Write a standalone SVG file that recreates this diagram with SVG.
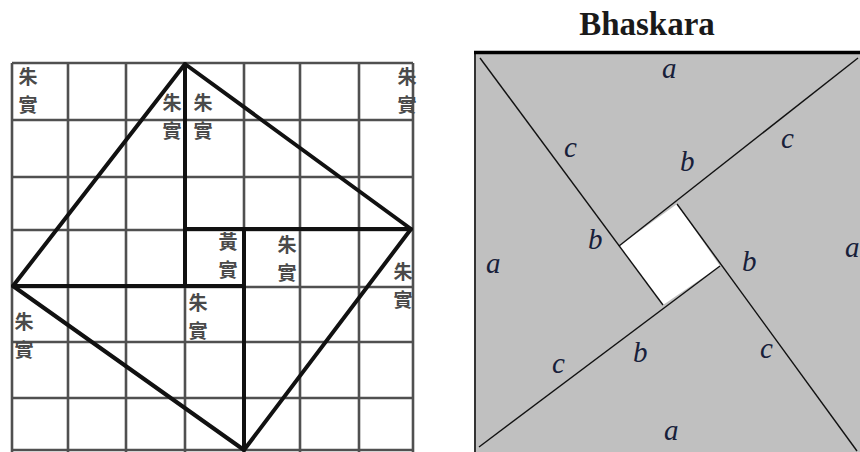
<svg xmlns="http://www.w3.org/2000/svg" width="860" height="452" viewBox="0 0 860 452">
<style>
.grid{stroke:#505050;stroke-width:2.6;fill:none}
.thick{stroke:#111;stroke-width:4;fill:none;stroke-linecap:round;stroke-linejoin:round}
.cjk{font-family:"Noto Sans CJK TC","Noto Sans CJK SC",sans-serif;font-size:19px;font-weight:700;fill:#4a4a4a;text-anchor:middle}
.seg{stroke:#111;stroke-width:1.4;fill:none}
.lbl{font-family:"Liberation Serif",serif;font-style:italic;font-size:29px;fill:#18203a}
.title{font-family:"Liberation Serif",serif;font-weight:bold;font-size:33px;fill:#1a1a1a;text-anchor:middle}
</style>
<rect width="860" height="452" fill="#ffffff"/>
<g id="chinese-figure">
<g id="grid">
<path class="grid" d="M12 63V452M68 63V452M126 63V452M185 63V452M244 63V452M300 63V452M359 63V452M413 63V452"/>
<path class="grid" d="M12 63H413M12 120H413M12 177H413M12 230H413M12 287H413M12 342H413M12 398H413M12 450H413"/>
</g>
<g id="hypotenuse-square">
<path class="thick" d="M185 64L411 229L244 450L13 286Z"/>
<path class="thick" d="M185 64V286M411 229H185M244 450V229M13 286H244"/>
</g>
<g id="label-1"><text class="cjk" x="28" y="84">朱</text><text class="cjk" x="28" y="112">實</text></g>
<g id="label-2"><text class="cjk" x="172" y="110">朱</text><text class="cjk" x="172" y="138">實</text></g>
<g id="label-3"><text class="cjk" x="203" y="110">朱</text><text class="cjk" x="203" y="138">實</text></g>
<g id="label-4"><text class="cjk" x="407" y="84">朱</text><text class="cjk" x="407" y="112">實</text></g>
<g id="label-5"><text class="cjk" x="228" y="249">黃</text><text class="cjk" x="228" y="277">實</text></g>
<g id="label-6"><text class="cjk" x="287" y="252">朱</text><text class="cjk" x="287" y="280">實</text></g>
<g id="label-7"><text class="cjk" x="403" y="279">朱</text><text class="cjk" x="403" y="307">實</text></g>
<g id="label-8"><text class="cjk" x="24" y="329">朱</text><text class="cjk" x="24" y="357">實</text></g>
<g id="label-9"><text class="cjk" x="198" y="310">朱</text><text class="cjk" x="198" y="338">實</text></g>
</g>
<g id="bhaskara-figure">
<text class="title" x="647" y="35">Bhaskara</text>
<g id="outer-square">
<rect x="475" y="52" width="390" height="410" fill="#c0c0c0"/>
<line x1="475" y1="51" x2="475" y2="452" stroke="#333" stroke-width="2"/>
<line x1="474" y1="52.5" x2="860" y2="52.5" stroke="#000" stroke-width="3.5"/>
</g>
<g id="inner-square">
<path d="M677 204L720 266L663 305L619 246Z" fill="#ffffff"/>
</g>
<g id="connectors">
<line class="seg" x1="480" y1="58" x2="663" y2="305"/>
<line class="seg" x1="858" y1="58" x2="619" y2="246"/>
<line class="seg" x1="479" y1="447" x2="720" y2="266"/>
<line class="seg" x1="857" y1="451" x2="677" y2="204"/>
</g>
<g id="labels-right">
<text class="lbl" x="662" y="78">a</text>
<text class="lbl" x="564" y="157">c</text>
<text class="lbl" x="680" y="171">b</text>
<text class="lbl" x="781" y="148">c</text>
<text class="lbl" x="588" y="249">b</text>
<text class="lbl" x="486" y="273">a</text>
<text class="lbl" x="742" y="271">b</text>
<text class="lbl" x="845" y="257">a</text>
<text class="lbl" x="552" y="373">c</text>
<text class="lbl" x="633" y="362">b</text>
<text class="lbl" x="760" y="358">c</text>
<text class="lbl" x="664" y="440">a</text>
</g>
</g>
</svg>
